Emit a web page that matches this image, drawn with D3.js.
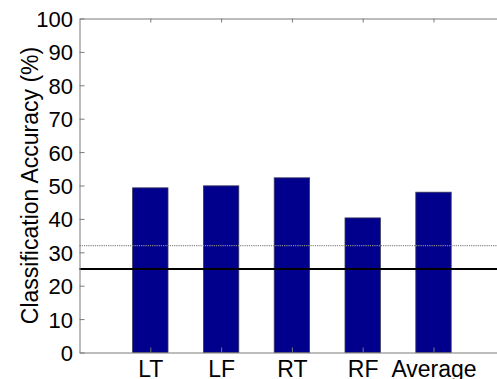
<!DOCTYPE html>
<html>
<head>
<meta charset="utf-8">
<script src="https://cdn.jsdelivr.net/npm/d3@7"></script>
<style>
  html, body { margin: 0; padding: 0; background: #fff; }
  svg { display: block; }
  text { font-family: "Liberation Sans", Arial, sans-serif; fill: #000; }
</style>
</head>
<body>
<svg id="chart" width="497" height="379"></svg>
<script>
// Classification accuracy per condition
const categories = ["LT", "LF", "RT", "RF", "Average"];
const accuracy = [49.3, 49.9, 52.3, 40.3, 48.0];
const yTicks = [0, 10, 20, 30, 40, 50, 60, 70, 80, 90, 100];
const chanceLevel = [25];
const thresholdLevel = [32];

const svg = d3.select("#chart");
const plotLeft = 79.5, plotTop = 18.5, plotBottom = 352.5;
const step = 70.8;

// x positions: categories at 1..5, axis spans 0..6
const x = d3.scaleLinear().domain([0, 6]).range([plotLeft, plotLeft + 6 * step]);
const y = d3.scaleLinear().domain([0, 100]).range([plotBottom, plotTop]);
const plotRight = x(6);

const axisColor = "#7a7a7a";

// bars
svg.append("g").selectAll("rect")
  .data(accuracy)
  .join("rect")
  .attr("x", (d, i) => x(i + 1) - step * 0.25)
  .attr("width", step * 0.5)
  .attr("y", d => y(d))
  .attr("height", d => y(0) - y(d))
  .attr("fill", "#00008c")
  .attr("stroke", "#3a3a5a")
  .attr("stroke-width", 0.8);

// reference lines
svg.append("g").selectAll("line")
  .data(thresholdLevel)
  .join("line")
  .attr("x1", plotLeft).attr("x2", plotRight)
  .attr("y1", d => y(d)).attr("y2", d => y(d))
  .attr("stroke", "#8a8a8a")
  .attr("stroke-width", 1.3)
  .attr("stroke-dasharray", "1.2,1");

svg.append("g").selectAll("line")
  .data(chanceLevel)
  .join("line")
  .attr("x1", plotLeft).attr("x2", plotRight)
  .attr("y1", d => y(d)).attr("y2", d => y(d))
  .attr("stroke", "#000")
  .attr("stroke-width", 2);

// left axis (ticks pointing inward)
const yAxis = svg.append("g")
  .attr("transform", `translate(${plotLeft},0)`)
  .call(d3.axisLeft(y).tickValues(yTicks).tickSizeInner(-5).tickSizeOuter(0).tickPadding(6.5));
yAxis.select(".domain").attr("stroke", axisColor);
yAxis.selectAll(".tick line").attr("stroke", axisColor);
yAxis.selectAll("text").style("font-size", "22px").attr("dy", "0.36em");

// bottom axis
const xAxis = svg.append("g")
  .attr("transform", `translate(0,${plotBottom})`)
  .call(d3.axisBottom(x).tickValues([1, 2, 3, 4, 5])
    .tickFormat(d => categories[d - 1]).tickSizeInner(-5).tickSizeOuter(0).tickPadding(8.5));
xAxis.select(".domain").attr("stroke", axisColor);
xAxis.selectAll(".tick line").attr("stroke", axisColor);
xAxis.selectAll("text").style("font-size", "23px").attr("dy", "0.71em");

// top axis (box edge with inward ticks)
const topAxis = svg.append("g")
  .attr("transform", `translate(0,${plotTop})`)
  .call(d3.axisTop(x).tickValues([1, 2, 3, 4, 5]).tickSizeInner(-4).tickSizeOuter(0).tickFormat(""));
topAxis.select(".domain").attr("stroke", axisColor);
topAxis.selectAll(".tick line").attr("stroke", axisColor);

// y-axis title
svg.append("text")
  .attr("transform", `translate(38,${(plotTop + plotBottom) / 2}) rotate(-90)`)
  .attr("text-anchor", "middle")
  .style("font-size", "23px")
  .text("Classification Accuracy (%)");
</script>
</body>
</html>
